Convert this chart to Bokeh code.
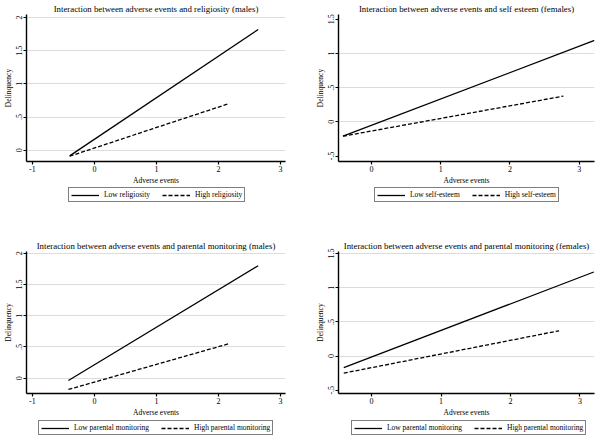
from bokeh.plotting import figure
from bokeh.layouts import gridplot
from bokeh.models import FixedTicker, Legend, LegendItem, Range1d
from bokeh.embed import file_html
from bokeh.resources import INLINE

titles = [
    "Interaction between adverse events and religiosity (males)",
    "Interaction between adverse events and self esteem (females)",
    "Interaction between adverse events and parental monitoring (males)",
    "Interaction between adverse events and parental monitoring (females)",
]
low_labels = ["Low religiosity", "Low self-esteem", "Low parental monitoring", "Low parental monitoring"]
high_labels = ["High religiosity", "High self-esteem", "High parental monitoring", "High parental monitoring"]

x_start = [-0.40, -0.41, -0.42, -0.40]
low_x_end = [2.64, 3.22, 2.64, 3.20]
low_y_start = [-0.085, -0.21, -0.036, -0.17]
low_y_end = [1.82, 1.19, 1.80, 1.23]
high_x_end = [2.16, 2.77, 2.16, 2.70]
high_y_start = [-0.09, -0.21, -0.18, -0.25]
high_y_end = [0.70, 0.376, 0.55, 0.37]

x_ticks = [[-1, 0, 1, 2, 3], [0, 1, 2, 3], [-1, 0, 1, 2, 3], [0, 1, 2, 3]]
y_ticks = [[0, 0.5, 1, 1.5, 2], [-0.5, 0, 0.5, 1, 1.5], [0, 0.5, 1, 1.5, 2], [-0.5, 0, 0.5, 1, 1.5]]
y_grid = [[0, 0.5, 1, 1.5, 2], [0, 0.5, 1], [0, 0.5, 1, 1.5, 2], [0, 0.5, 1, 1.5]]
y_tick_text = {-0.5: "-.5", 0: "0", 0.5: ".5", 1: "1", 1.5: "1.5", 2: "2"}

x_ranges = [(-1.096, 3.08), (-0.475, 3.22), (-1.096, 3.08), (-0.476, 3.21)]
y_ranges = [(-0.17, 2.045), (-0.58, 1.57), (-0.244, 2.027), (-0.548, 1.53)]

FONT = "Liberation Serif"
# main figure: width, height, border left, right, top, bottom
main_layout = [
    (300, 187, 23, 15, 14, 24),
    (300, 187, 38, 5, 14, 24),
    (300, 197, 23, 15, 29, 23),
    (300, 197, 37, 6, 29, 23),
]
legend_fig_h = [35, 35, 25, 25]
legend_pos = [(42, 20), (36, 20), (12, 9), (13, 9)]


def make_legend(items, loc):
    return Legend(items=items, orientation="horizontal", location=loc,
                  border_line_color="black", border_line_width=1,
                  background_fill_color="white", background_fill_alpha=1,
                  label_text_font=FONT, label_text_font_size="7.5px", label_text_color="black",
                  glyph_width=28, glyph_height=8, label_height=8,
                  padding=2, spacing=12, margin=0, label_standoff=5)


mains, legs = [], []
for i in range(4):
    w, h, bl, br, bt, bb = main_layout[i]
    p = figure(width=w, height=h, output_backend="svg", toolbar_location=None,
               x_range=Range1d(*x_ranges[i]), y_range=Range1d(*y_ranges[i]),
               min_border_left=bl, min_border_right=br, min_border_top=bt, min_border_bottom=bb)
    p.outline_line_color = None
    p.title.text = titles[i]
    p.title.align = "center"
    p.title.text_font = FONT
    p.title.text_font_size = "8.8px"
    p.title.text_font_style = "normal"
    p.title.text_color = "black"
    p.title.standoff = 2

    p.line([x_start[i], low_x_end[i]], [low_y_start[i], low_y_end[i]],
           line_color="black", line_width=1.3)
    p.line([x_start[i], high_x_end[i]], [high_y_start[i], high_y_end[i]],
           line_color="black", line_width=1.3, line_dash="4 2")

    p.xgrid.visible = False
    p.ygrid.ticker = FixedTicker(ticks=y_grid[i])
    p.ygrid.grid_line_color = "#dcdcdc"
    p.ygrid.grid_line_width = 1

    for ax in (p.xaxis[0], p.yaxis[0]):
        ax.axis_line_color = "black"
        ax.axis_line_width = 1.4
        ax.major_tick_line_color = "black"
        ax.major_tick_line_width = 1.2
        ax.major_tick_out = 3
        ax.major_tick_in = 0
        ax.minor_tick_line_color = None
        ax.major_label_text_font = FONT
        ax.major_label_text_font_size = "8px"
        ax.major_label_text_color = "black"
        ax.axis_label_text_font = FONT
        ax.axis_label_text_font_size = "7.5px"
        ax.axis_label_text_font_style = "normal"
        ax.axis_label_text_color = "black"
        ax.major_label_standoff = 1
        ax.axis_label_standoff = 1
    p.xaxis.ticker = FixedTicker(ticks=x_ticks[i])
    p.xaxis.major_label_overrides = {t: str(t) for t in x_ticks[i]}
    p.xaxis.axis_label = "Adverse events"
    p.yaxis.ticker = FixedTicker(ticks=y_ticks[i])
    p.yaxis.major_label_overrides = {t: y_tick_text[t] for t in y_ticks[i]}
    p.yaxis.major_label_orientation = "vertical"
    p.yaxis.axis_label = "Delinquency"
    mains.append(p)

    # legend strip below each panel (its lines lie outside the strip's visible range)
    q = figure(width=300, height=legend_fig_h[i], output_backend="svg", toolbar_location=None,
               x_range=Range1d(*x_ranges[i]), y_range=Range1d(100, 101),
               x_axis_type=None, y_axis_type=None,
               min_border_left=0, min_border_right=0, min_border_top=0, min_border_bottom=0)
    q.outline_line_color = None
    q.grid.visible = False
    q1 = q.line([x_start[i], low_x_end[i]], [low_y_start[i], low_y_end[i]],
                line_color="black", line_width=1.3)
    q2 = q.line([x_start[i], high_x_end[i]], [high_y_start[i], high_y_end[i]],
                line_color="black", line_width=1.3, line_dash="4 2")
    q.add_layout(make_legend([LegendItem(label=low_labels[i], renderers=[q1]),
                              LegendItem(label=high_labels[i], renderers=[q2])],
                             legend_pos[i]), "center")
    legs.append(q)

grid = gridplot([[mains[0], mains[1]], [legs[0], legs[1]],
                 [mains[2], mains[3]], [legs[2], legs[3]]], toolbar_location=None)
open("out.html", "w").write(file_html(grid, INLINE))
